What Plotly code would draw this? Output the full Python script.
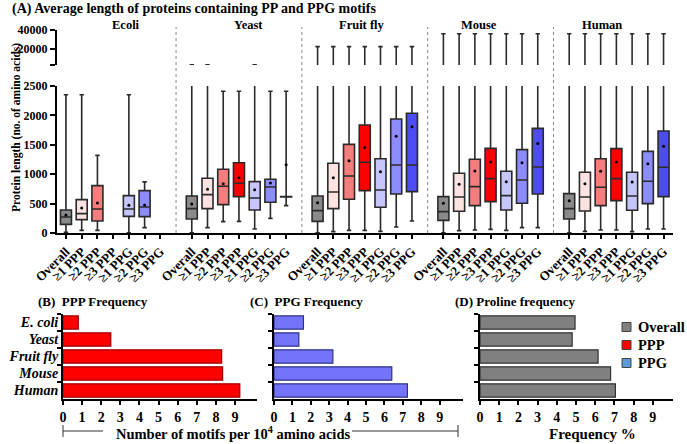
import plotly.graph_objects as go

# ---- data ----
species = ["Ecoli", "Yeast", "Fruit fly", "Mouse", "Human"]
groups = ["Overall", "≥1 PPP", "≥2 PPP", "≥3 PPP", "≥1 PPG", "≥2 PPG", "≥3 PPG"]

# per species, per group (None = no data)
box_q1 = [
    [147, 227, 204, None, 283, 278, None],
    [238, 414, 482, 618, 391, 522, 612],
    [198, 414, 573, 720, 437, 663, 703],
    [215, 369, 465, 533, 391, 505, 663],
    [238, 374, 465, 550, 386, 499, 618],
]
box_median = [
    [272, 329, 408, None, 408, 442, None],
    [414, 652, 794, 845, 595, 782, 615],
    [380, 697, 970, 1202, 731, 1157, 1157],
    [363, 612, 788, 924, 635, 902, 1123],
    [414, 612, 777, 924, 629, 879, 1117],
]
box_q3 = [
    [391, 567, 805, None, 635, 720, None],
    [629, 930, 1083, 1196, 873, 913, 618],
    [629, 1185, 1508, 1837, 1264, 1939, 2036],
    [618, 1015, 1253, 1440, 1049, 1418, 1780],
    [669, 1032, 1264, 1435, 1032, 1389, 1735],
]
box_mean = [
    [306, 425, 510, None, 470, 476, None],
    [493, 743, 839, 941, 737, 850, 1162],
    [516, 941, 1230, 1452, 1043, 1644, 1809],
    [505, 828, 1055, 1208, 873, 1196, 1520],
    [550, 839, 1049, 1208, 868, 1179, 1474],
]
box_min = [
    [10, 45, 45, None, 5, 91, None],
    [5, 91, 193, 198, 68, 249, 465],
    [2, 23, 45, 45, 28, 102, 204],
    [2, 40, 51, 62, 45, 91, 91],
    [2, 28, 51, 51, 23, 68, 68],
]
box_max = [
    [2350, 2350, 1320, None, 2350, 870, None],
    [3600, 3600, 2410, 2410, 3600, 2410, 2410],
    [22400, 22400, 22400, 22400, 22400, 22400, 22400],
    [35800, 35800, 35800, 35800, 35800, 35800, 35800],
    [35800, 35800, 35800, 35800, 35800, 35800, 35800],
]

bar_species = ["E. coli", "Yeast", "Fruit fly", "Mouse", "Human"]
ppp_freq = [0.8, 2.5, 8.3, 8.35, 9.25]
ppg_freq = [1.6, 1.35, 3.2, 6.4, 7.25]
proline_freq = [4.95, 4.8, 6.15, 6.8, 7.05]

legend_names = ["Overall", "PPP", "PPG"]
legend_colors = ["#808080", "#ff0000", "#5b9bd5"]

box_colors = ["#8a8a8a", "#fde2e2", "#f47d7d", "#ff0000", "#c6c6fd", "#8c8cfc", "#4c4cf2"]

W, H = 687, 444
SERIF = "Liberation Serif, Times New Roman, serif"


def px(x):
    return x / W


def py(y):
    return 1 - y / H


fig = go.Figure()

# ---- panel A: box plots on a broken axis ----
tick_pos, tick_txt = [], []
mean_x, mean_y = [], []
for s in range(len(species)):
    for g in range(len(groups)):
        pos = s * 8 + g
        tick_pos.append(pos)
        tick_txt.append(groups[g])
        if box_q1[s][g] is None:
            continue
        for yax in ["y", "y2"]:
            fig.add_trace(go.Box(
                x=[pos], q1=[box_q1[s][g]], median=[box_median[s][g]], q3=[box_q3[s][g]],
                lowerfence=[box_min[s][g]], upperfence=[box_max[s][g]],
                width=0.7, whiskerwidth=0.4, fillcolor=box_colors[g],
                line=dict(color="#2a2a2a", width=1.6), boxpoints=False,
                showlegend=False, hoverinfo="skip", xaxis="x", yaxis=yax))
        mean_x.append(pos)
        mean_y.append(box_mean[s][g])

fig.add_trace(go.Scatter(x=mean_x, y=mean_y, mode="markers",
                         marker=dict(size=3, color="black"),
                         showlegend=False, hoverinfo="skip", xaxis="x", yaxis="y"))

# ---- panels B, C, D ----
fig.add_trace(go.Bar(y=bar_species, x=ppp_freq, orientation="h", name="PPP",
                     marker=dict(color="#ff0000", line=dict(color="#a00000", width=1.2)),
                     xaxis="x3", yaxis="y3", showlegend=False))
fig.add_trace(go.Bar(y=bar_species, x=ppg_freq, orientation="h", name="PPG",
                     marker=dict(color="#7474fb", line=dict(color="#30308a", width=1.2)),
                     xaxis="x4", yaxis="y4", showlegend=False))
fig.add_trace(go.Bar(y=bar_species, x=proline_freq, orientation="h", name="Overall",
                     marker=dict(color="#808080", line=dict(color="#333333", width=1.2)),
                     xaxis="x5", yaxis="y5", showlegend=False))

axis_common = dict(showline=True, linecolor="black", linewidth=2, ticks="outside",
                   tickcolor="black", showgrid=False, zeroline=False, automargin=False)
tick_font = dict(family=SERIF, size=13, color="black", weight="bold")
ytick_font = dict(tick_font, size=12)

fig.update_layout(
    width=W, height=H, margin=dict(l=0, r=0, t=0, b=0, autoexpand=False),
    plot_bgcolor="white", paper_bgcolor="white",
    font=dict(family=SERIF, color="black"),
    boxmode="overlay", bargap=0.22, showlegend=False,
    xaxis=dict(axis_common, domain=[px(57), px(673)], range=[-0.57, 38.6], anchor="y",
               tickvals=tick_pos, ticktext=tick_txt, tickangle=-45, ticklen=4, tickwidth=1.5,
               tickfont=tick_font),
    yaxis=dict(axis_common, domain=[py(233), py(86)], range=[0, 2500], anchor="x",
               tickvals=[0, 500, 1000, 1500, 2000, 2500], ticklen=5, tickwidth=2,
               tickfont=ytick_font),
    yaxis2=dict(axis_common, domain=[py(65), py(29.7)], range=[3400, 40000], anchor="x",
                tickvals=[3400, 20000, 40000], ticktext=[" ", "20000", "40000"],
                ticklen=5, tickwidth=2, tickfont=ytick_font),
    xaxis3=dict(axis_common, domain=[px(63), px(257)], range=[0, 10.15], anchor="y3",
                tickvals=list(range(10)), ticklen=4, tickwidth=1.5,
                tickfont=dict(tick_font, size=14)),
    yaxis3=dict(axis_common, domain=[py(399), py(314)], anchor="x3", type="category",
                autorange="reversed", tickson="boundaries", ticklen=4, tickwidth=1.5,
                tickfont=dict(family=SERIF, size=14, color="black", weight="bold", style="italic")),
    xaxis4=dict(axis_common, domain=[px(274), px(463)], range=[0, 10.27], anchor="y4",
                tickvals=list(range(10)), ticklen=4, tickwidth=1.5,
                tickfont=dict(tick_font, size=14)),
    yaxis4=dict(axis_common, domain=[py(399), py(314)], anchor="x4", type="category",
                autorange="reversed", tickson="boundaries", ticklen=4, tickwidth=1.5,
                showticklabels=False),
    xaxis5=dict(axis_common, domain=[px(480), px(673)], range=[0, 10.05], anchor="y5",
                tickvals=list(range(10)), ticklen=4, tickwidth=1.5,
                tickfont=dict(tick_font, size=14)),
    yaxis5=dict(axis_common, domain=[py(399), py(314)], anchor="x5", type="category",
                autorange="reversed", tickson="boundaries", ticklen=4, tickwidth=1.5,
                showticklabels=False),
)

# dotted separators between species
for s in range(1, len(species)):
    fig.add_shape(type="line", xref="x", yref="paper", x0=s * 8 - 1, x1=s * 8 - 1,
                  y0=py(233), y1=py(27), line=dict(color="#888888", width=1, dash="dot"))

# bracket under panels B and C
for x0, x1, y0, y1 in [(63, 63, 425, 437), (63, 103, 431, 431),
                       (352, 458, 431, 431), (458, 458, 425, 437)]:
    fig.add_shape(type="line", xref="paper", yref="paper", x0=px(x0), x1=px(x1),
                  y0=py(y0), y1=py(y1), line=dict(color="#333333", width=1))


def label(text, x, y, size=12, xanchor="left", angle=0):
    fig.add_annotation(text=text, x=px(x), y=py(y), xref="paper", yref="paper",
                       xanchor=xanchor, yanchor="middle", showarrow=False, textangle=angle,
                       font=dict(family=SERIF, size=size, color="black", weight="bold"))


# legend for the bar panels, drawn by hand so it sits tight like the original
for i, (name, col) in enumerate(zip(legend_names, legend_colors)):
    yc = 327 + 18 * i
    fig.add_shape(type="rect", xref="paper", yref="paper",
                  x0=px(622), x1=px(631), y0=py(yc + 4.5), y1=py(yc - 4.5),
                  fillcolor=col, line=dict(color="#444444", width=1))
    label(name, 636, yc, size=14.5)

label("(A) Average length of proteins containing PP and PPG motifs", 10, 9, size=14)
for name, x in zip(species, [126, 248, 362, 479, 602]):
    label(name, x, 25, size=12.5, xanchor="center")
label("Protein length (no. of amino acids)", 17, 128, size=11.5, xanchor="center", angle=-90)
label("(B)  PPP Frequency", 36, 301, size=13)
label("(C)  PPG Frequency", 248, 301, size=13)
label("(D) Proline frequency", 453, 301, size=13)
label("Number of motifs per 10<sup>4</sup> amino acids", 233, 433, size=14.5, xanchor="center")
label("Frequency %", 592, 434, size=15, xanchor="center")

# the page's default body margin would shift the figure by 8px
fig.write_html("out.html", config={"displayModeBar": False},
               post_script="document.body.style.margin = '0px';")
